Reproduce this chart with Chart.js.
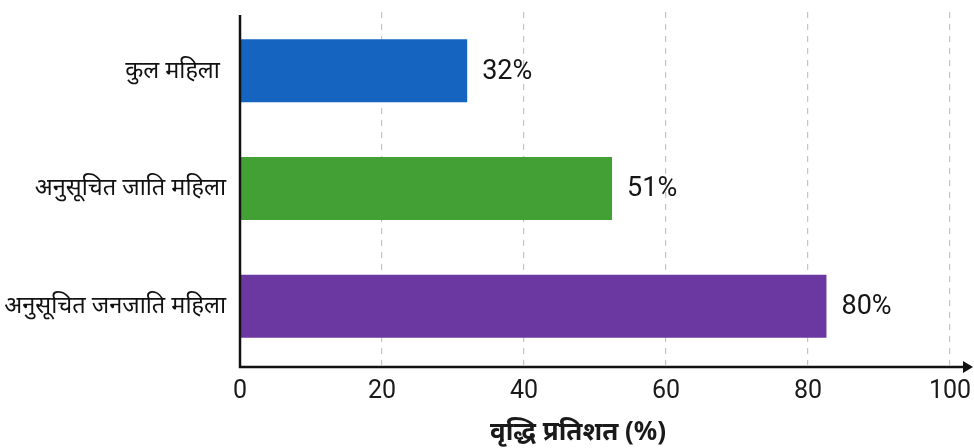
<!DOCTYPE html>
<html>
<head>
<meta charset="utf-8">
<script src="https://cdn.jsdelivr.net/npm/chart.js@4.4.0/dist/chart.umd.min.js"></script>
<style>
  html, body { margin: 0; padding: 0; background: #fff; }
  #wrap { width: 974px; height: 448px; }
</style>
</head>
<body>
<div id="wrap"><canvas id="growthChart" width="974" height="448"></canvas></div>
<script>
// categories and values
const categories = ['कुल महिला ', 'अनुसूचित जाति महिला', 'अनुसूचित जनजाति महिला'];
const barValues = [32, 52.4, 82.6];          // bar lengths as drawn
const valueLabels = ['32%', '51%', '80%'];   // text printed next to each bar
const barColors = ['#1565C0', '#43A035', '#6A38A0'];
const xTicks = [0, 20, 40, 60, 80, 100];
const xTitle = 'वृद्धि प्रतिशत (%)     ';   // trailing spaces nudge it left like the original

const hindiFont = "'Noto Sans', 'Lato', sans-serif";
const numFont = "Roboto, 'Noto Sans', sans-serif";

// draws the black axes (with arrow) and the value labels
const axesAndLabels = {
    id: 'axesAndLabels',
    afterDatasetsDraw(chart) {
        const ctx = chart.ctx;
        const area = chart.chartArea;
        const xAxisY = area.bottom + 2;

        ctx.save();
        ctx.strokeStyle = '#111';
        ctx.lineWidth = 2.5;
        ctx.beginPath();
        ctx.moveTo(area.left, area.top + 3);
        ctx.lineTo(area.left, xAxisY);
        ctx.lineTo(chart.width - 8, xAxisY);
        ctx.stroke();

        // arrow head
        ctx.fillStyle = '#111';
        ctx.beginPath();
        ctx.moveTo(chart.width - 1, xAxisY);
        ctx.lineTo(chart.width - 11, xAxisY - 6);
        ctx.lineTo(chart.width - 11, xAxisY + 6);
        ctx.closePath();
        ctx.fill();

        // value labels
        ctx.font = '27px ' + numFont;
        ctx.fillStyle = '#151515';
        ctx.textBaseline = 'middle';
        ctx.textAlign = 'left';
        chart.getDatasetMeta(0).data.forEach((bar, i) => {
            ctx.fillText(valueLabels[i], bar.x + 15, bar.y + 1);
        });
        ctx.restore();
    }
};

const config = {
    type: 'bar',
    data: {
        labels: categories,
        datasets: [{
            data: barValues,
            backgroundColor: barColors,
            borderWidth: 0,
            categoryPercentage: 1,
            barPercentage: 0.535
        }]
    },
    options: {
        indexAxis: 'y',
        responsive: false,
        animation: false,
        layout: { padding: { top: 12, right: 24, left: 0, bottom: 0 } },
        scales: {
            x: {
                min: 0,
                max: 100,
                afterBuildTicks: (scale) => { scale.ticks = xTicks.map(v => ({ value: v })); },
                afterFit: (scale) => {
                    scale.height = 83;
                    scale.paddingLeft = 0;
                    scale.paddingRight = 0;
                },
                border: { display: false, dash: [6, 6] },
                grid: {
                    drawTicks: false,
                    color: (c) => c.tick && c.tick.value === 0 ? 'rgba(0,0,0,0)' : '#c4c4c4',
                    lineWidth: 1.2
                },
                ticks: {
                    padding: 12,
                    color: '#1a1a1a',
                    font: { family: numFont, size: 25 }
                },
                title: {
                    display: true,
                    text: xTitle,
                    color: '#1a1a1a',
                    font: { family: hindiFont, size: 26, weight: 'bold' },
                    padding: { top: 2, bottom: 0 }
                }
            },
            y: {
                afterFit: (scale) => {
                    scale.width = 240;
                    scale.paddingTop = 0;
                    scale.paddingBottom = 0;
                },
                border: { display: false },
                grid: { display: false, drawTicks: false },
                ticks: {
                    padding: 14,
                    color: '#111',
                    font: { family: hindiFont, size: 23.5 }
                }
            }
        },
        plugins: {
            legend: { display: false },
            tooltip: { enabled: false }
        }
    },
    plugins: [axesAndLabels]
};

const ctx = document.getElementById('growthChart').getContext('2d');
const growthChart = new Chart(ctx, config);
</script>
</body>
</html>
